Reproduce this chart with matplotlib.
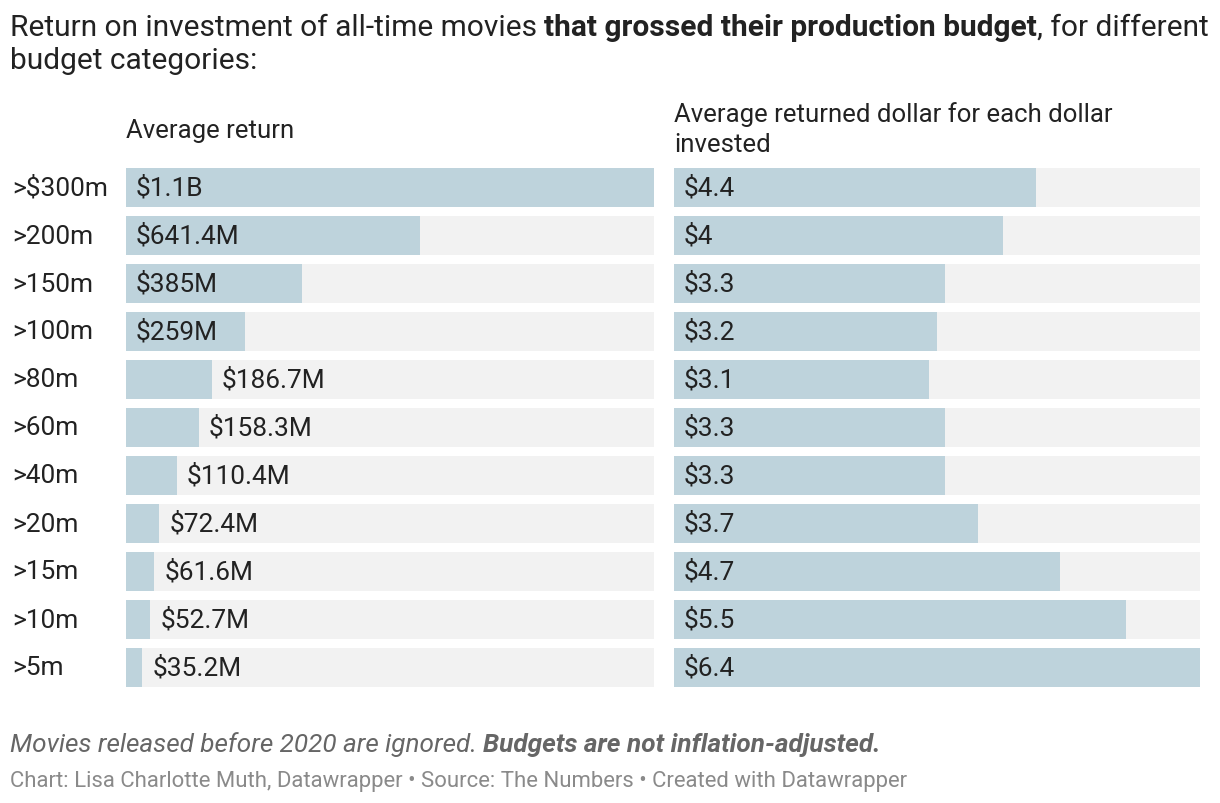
import matplotlib
matplotlib.use("Agg")
import matplotlib.pyplot as plt

categories = [">$300m", ">200m", ">150m", ">100m", ">80m", ">60m", ">40m", ">20m", ">15m", ">10m", ">5m"]
avg_return_m = [1152, 641.4, 385, 259, 186.7, 158.3, 110.4, 72.4, 61.6, 52.7, 35.2]
avg_return_labels = ["$1.1B", "$641.4M", "$385M", "$259M", "$186.7M", "$158.3M", "$110.4M",
                     "$72.4M", "$61.6M", "$52.7M", "$35.2M"]
dollar_per_dollar = [4.4, 4.0, 3.3, 3.2, 3.1, 3.3, 3.3, 3.7, 4.7, 5.5, 6.4]
dollar_labels = ["$4.4", "$4", "$3.3", "$3.2", "$3.1", "$3.3", "$3.3", "$3.7", "$4.7", "$5.5", "$6.4"]

W, H = 1220, 804
BAR = "#bed3dc"
BG = "#f2f2f2"
FONT = "Roboto"
TXT = "#222222"
plt.rcParams["font.family"] = [FONT, "DejaVu Sans"]

fig = plt.figure(figsize=(W / 100, H / 100), dpi=100)
fig.patch.set_facecolor("white")


def fx(x):
    return x / W


def fy(y):
    return 1 - y / H


top, bottom = 168.5, 688.5
n = len(categories)
ylo, yhi = -0.41667, n - 1 + 0.41667
LAB = 18.9


def make_panel(x0, x1, values, labels, vmax, inside_min_px):
    ax = fig.add_axes([fx(x0), fy(bottom), fx(x1 - x0), (bottom - top) / H])
    ax.set_xlim(0, vmax)
    ax.set_ylim(yhi, ylo)
    ax.axis("off")
    ys = list(range(n))
    ax.barh(ys, [vmax] * n, height=0.8333, color=BG, linewidth=0)
    ax.barh(ys, values, height=0.8333, color=BAR, linewidth=0)
    width_px = x1 - x0
    for y, v, lab in zip(ys, values, labels):
        bar_px = v / vmax * width_px
        xv = 0 if bar_px >= inside_min_px else v
        ax.annotate(lab, xy=(xv, y), xytext=(10, 0), textcoords="offset pixels",
                    va="center", ha="left", fontsize=LAB, color=TXT)
    return ax


axL = make_panel(126, 654, avg_return_m, avg_return_labels, max(avg_return_m), 110)
axR = make_panel(674, 1200, dollar_per_dollar, dollar_labels, max(dollar_per_dollar), 60)

for i, c in enumerate(categories):
    fig.text(fx(12), fy(top + 20 + 48 * i), c, fontsize=LAB, color=TXT,
             va="center", ha="left")

fig.text(fx(126), fy(138), "Average return", fontsize=18.5, color=TXT, va="baseline")
fig.text(fx(674), fy(122), "Average returned dollar for each dollar", fontsize=18.5,
         color=TXT, va="baseline")
fig.text(fx(674), fy(152), "invested", fontsize=18.5, color=TXT, va="baseline")

renderer = fig.canvas.get_renderer()


def seq_text(x, y, parts, **kw):
    cur = x
    for s, extra in parts:
        t = fig.text(fx(cur), fy(y), s, va="baseline", ha="left", **kw, **extra)
        bb = t.get_window_extent(renderer)
        cur = cur + bb.width


seq_text(10, 36, [("Return on investment of all-time movies ", {}),
                  ("that grossed their production budget", {"fontweight": "bold"}),
                  (", for different", {})], fontsize=21.5, color=TXT)
fig.text(fx(10), fy(69), "budget categories:", fontsize=21.5, color=TXT, va="baseline")

seq_text(10, 752, [("Movies released before 2020 are ignored. ", {}),
                   ("Budgets are not inflation-adjusted.", {"fontweight": "bold"})],
         fontsize=18.8, color="#666666", style="italic")

fig.text(fx(10), fy(787), "Chart: Lisa Charlotte Muth, Datawrapper \u2022 Source: The Numbers \u2022 Created with Datawrapper",
         fontsize=15.9, color="#8a8a8a", va="baseline")

fig.savefig("out.png", dpi=100, facecolor="white")
